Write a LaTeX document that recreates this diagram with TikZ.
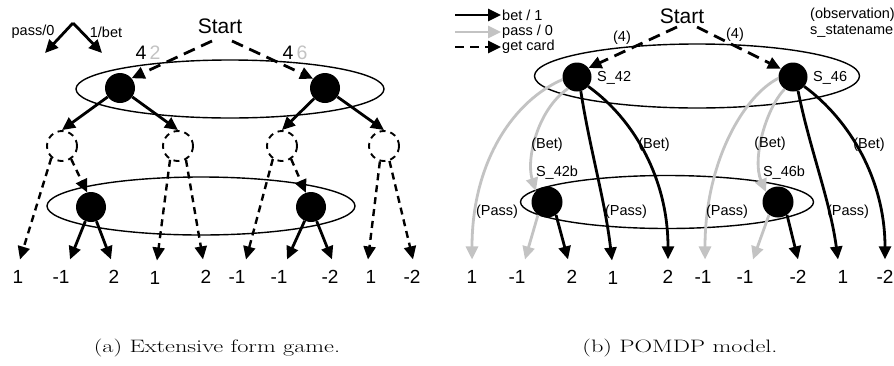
\documentclass[tikz,border=0pt]{standalone}
\usepackage{fontspec}
\usepackage{graphicx}
\newfontfamily\arial{Liberation Sans}
\usetikzlibrary{arrows.meta,shapes.geometric}
\definecolor{lightg}{RGB}{195,195,195}
\tikzset{
  tipa/.style={-{Triangle[length=13pt,width=12pt]}},
  blk/.style={line width=2.8pt, tipa},
  gry/.style={line width=2.8pt, draw=lightg, -{Triangle[length=13pt,width=12pt,fill=lightg]}},
  dshbig/.style={line width=2.8pt, dash pattern=on 12pt off 7pt, tipa},
  dshsm/.style={line width=2.4pt, dash pattern=on 7pt off 5pt, tipa},
  state/.style={circle, fill=black, minimum size=30pt, inner sep=0pt},
  chance/.style={circle, draw, line width=1.9pt, dash pattern=on 6pt off 5pt, minimum size=30pt, inner sep=0pt},
  infoset/.style={ellipse, draw, line width=1.4pt, inner sep=0pt},
  lbl/.style={font=\arial\fontsize{14.5}{17}\selectfont, inner sep=1pt},
  num/.style={font=\arial\fontsize{19}{21}\selectfont, inner sep=0pt, outer ysep=11pt},
  startf/.style={font=\arial\fontsize{21}{25}\selectfont, inner sep=1pt},
  cardf/.style={font=\arial\fontsize{19.5}{22}\selectfont, inner sep=0pt},
  capt/.style={font=\fontsize{18}{22}\selectfont, inner sep=0pt}
}
\begin{document}
\begin{tikzpicture}[x=1pt,y=-1pt]
\useasboundingbox (0,0) rectangle (894,365);

% ================= LEFT: extensive form game =================
% legend
\coordinate (apex) at (73,23);
\coordinate (lp) at (45,53);
\coordinate (lb) at (102,53);
\node[lbl] (passL) at (33,32) {pass/0};
\node[lbl] (betL) at (106,32) {1/bet};
\draw[blk] (apex) -- (lp);
\draw[blk] (apex) -- (lb);

% information sets
\node[infoset, minimum width=308pt, minimum height=58pt] (EL1) at (230,89) {};
\node[infoset, minimum width=308pt, minimum height=58pt] (EL2) at (201,206) {};

\node[startf] (startL) at (220,26) {Start};
\node[cardf] (c4a) at (141,53) {4};
\node[cardf, text=lightg] (c2a) at (155,53) {2};
\node[cardf] (c4b) at (288,53) {4};
\node[cardf, text=lightg] (c6b) at (302,53) {6};

\node[state] (L1) at (120,88) {};
\node[state] (L2) at (325,88) {};
\node[chance] (c1) at (62,146) {};
\node[chance] (c2) at (178,146) {};
\node[chance] (c3) at (282,146) {};
\node[chance] (c4) at (384,146) {};
\node[state] (b1) at (91,207) {};
\node[state] (b2) at (311,207) {};

% leaves
\node[num] (l1) at (18,277) {1};
\node[num] (l2) at (61,277) {-1};
\node[num] (l3) at (114,277) {2};
\node[num] (l4) at (155,278) {1};
\node[num] (l5) at (206,277) {2};
\node[num] (l6) at (237,277) {-1};
\node[num] (l7) at (279,277) {-1};
\node[num] (l8) at (330,277) {-2};
\node[num] (l9) at (371,277) {1};
\node[num] (l10) at (412,277) {-2};

\draw[dshbig] ([xshift=-8pt,yshift=-15pt]startL.center) -- (L1.40);
\draw[dshbig] ([xshift=12pt,yshift=-15pt]startL.center) -- (L2.142);

\draw[blk] (L1) -- (c1.north);
\draw[blk] (L1) -- (c2.north);
\draw[blk] (L2) -- (c3.north);
\draw[blk] (L2) -- (c4.north);

\draw[dshsm] (c1.228) -- ([xshift=2pt]l1.north);
\draw[dshsm] (c1.305) -- (b1.105);
\draw[dshsm] (c2.240) -- ([xshift=2pt]l4.north);
\draw[dshsm] (c2.300) -- ([xshift=-3pt]l5.north);
\draw[dshsm] (c3.235) -- ([xshift=9pt]l6.north);
\draw[dshsm] (c3.305) -- (b2.110);
\draw[dshsm] (c4.255) -- ([xshift=-3pt]l9.north);
\draw[dshsm] (c4.290) -- ([xshift=1pt]l10.north);

\draw[blk] (b1) -- ([xshift=9pt]l2.north);
\draw[blk] (b1) -- ([xshift=-3pt]l3.north);
\draw[blk] (b2) -- ([xshift=8pt]l7.north);
\draw[blk] (b2) -- ([xshift=2pt]l8.north);

\node[capt] (capA) at (217,348) {\scalebox{1.35}[1]{(a) Extensive form game.}};

% ================= RIGHT: POMDP model =================
% legend
\coordinate (lg1) at (455,15);
\coordinate (lg2) at (455,32);
\coordinate (lg3) at (455,47);
\node[lbl, anchor=west] (lgt1) at (501,15) {bet / 1};
\node[lbl, anchor=west] (lgt2) at (501,32) {pass / 0};
\node[lbl, anchor=west] (lgt3) at (501,47) {get card};
\draw[blk] (lg1) -- (lgt1.west);
\draw[gry] (lg2) -- (lgt2.west);
\draw[line width=2.8pt, dash pattern=on 9pt off 6pt, tipa] (lg3) -- (lgt3.west);

\node[lbl, anchor=west] (obs) at (809,15) {(observation)};
\node[lbl, anchor=west] (sname) at (809,31) {s\_statename};

\node[infoset, minimum width=325pt, minimum height=64pt] (ER1) at (697,76) {};
\node[infoset, minimum width=293pt, minimum height=53pt] (ER2) at (667,202) {};

\node[startf] (startR) at (682,16) {Start};
\node[state, minimum size=29pt] (S42) at (577,77) {};
\node[state, minimum size=29pt] (S46) at (793,77) {};
\node[state, minimum size=31pt] (S42b) at (547,202) {};
\node[state, minimum size=31pt] (S46b) at (778,202) {};

\node[lbl, anchor=west] (n42) at (596,78) {S\_42};
\node[lbl, anchor=west] (n46) at (812,78) {S\_46};
\node[lbl] (n42b) at (557,173) {S\_42b};
\node[lbl] (n46b) at (784,173) {S\_46b};

\node[lbl] (o4a) at (622,38) {(4)};
\node[lbl] (o4b) at (735,35) {(4)};

\draw[dshbig] ([xshift=-5pt,yshift=-11pt]startR.center) -- (S42.38);
\draw[dshbig] ([xshift=15pt,yshift=-11pt]startR.center) -- (S46.146);

% leaves
\node[num] (r1) at (472,277) {1};
\node[num] (r2) at (517,277) {-1};
\node[num] (r3) at (572,277) {2};
\node[num] (r4) at (613,278) {1};
\node[num] (r5) at (668,277) {2};
\node[num] (r6) at (703,277) {-1};
\node[num] (r7) at (745,277) {-1};
\node[num] (r8) at (798,277) {-2};
\node[num] (r9) at (843,277) {1};
\node[num] (r10) at (885,277) {-2};

% from S_42
\draw[gry] (S42.190) .. controls (515,100) and (472,160) .. (r1.north);
\draw[gry] (S42.232) .. controls (537,110) and (526,160) .. (S42b.135);
\draw[blk] (S42.285) .. controls (590,150) and (605,200) .. ([xshift=-1pt]r4.north);
\draw[blk] (S42.320) .. controls (635,120) and (668,180) .. (r5.north);
\draw[gry] (S42b.235) -- ([xshift=8pt]r2.north);
\draw[blk] (S42b.305) -- ([xshift=-4pt]r3.north);

% from S_46
\draw[gry] (S46.185) .. controls (745,95) and (705,160) .. ([xshift=2pt]r6.north);
\draw[gry] (S46.235) .. controls (765,110) and (752,160) .. (S46b.140);
\draw[blk] (S46.290) .. controls (810,150) and (830,200) .. ([xshift=-5pt]r9.north);
\draw[blk] (S46.320) .. controls (850,120) and (885,180) .. (r10.north);
\draw[gry] (S46b.235) -- ([xshift=8pt]r7.north);
\draw[blk] (S46b.305) -- (r8.north);

% action labels
\node[lbl] (bg1) at (547,145) {(Bet)};
\node[lbl] (bb1) at (654,145) {(Bet)};
\node[lbl] (bg2) at (770,144) {(Bet)};
\node[lbl] (bb2) at (869,145) {(Bet)};
\node[lbl] (p1) at (497,212) {(Pass)};
\node[lbl] (p2) at (626,212) {(Pass)};
\node[lbl] (p3) at (727,212) {(Pass)};
\node[lbl] (p4) at (848,212) {(Pass)};

\node[capt] (capB) at (680,348) {\scalebox{1.35}[1]{(b) POMDP model.}};
\end{tikzpicture}
\end{document}
